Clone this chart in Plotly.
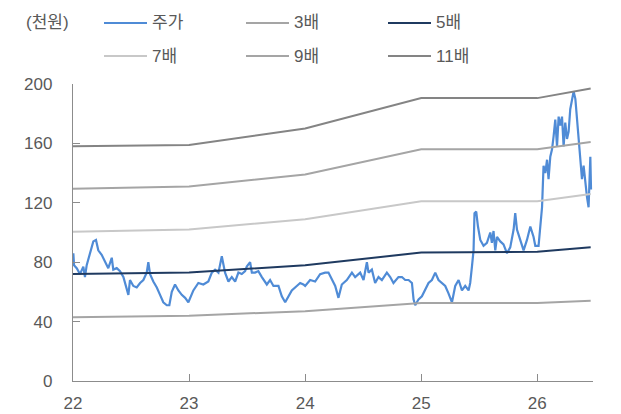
import plotly.graph_objects as go

# ---- data ----
price_t = [22.003, 22.009, 22.032, 22.060, 22.089, 22.103, 22.118, 22.147, 22.175, 22.198,
           22.218, 22.247, 22.276, 22.304, 22.334, 22.347, 22.377, 22.405, 22.434, 22.463,
           22.477, 22.491, 22.520, 22.549, 22.578, 22.606, 22.635, 22.649, 22.664, 22.692,
           22.722, 22.750, 22.778, 22.808, 22.830, 22.851, 22.879, 22.908, 22.937, 22.966,
           22.994, 23.037, 23.080, 23.123, 23.166, 23.196, 23.224, 23.253, 23.282, 23.310,
           23.339, 23.368, 23.397, 23.425, 23.454, 23.483, 23.497, 23.526, 23.541, 23.569,
           23.597, 23.627, 23.670, 23.698, 23.727, 23.770, 23.799, 23.828, 23.856, 23.885,
           23.928, 23.957, 23.985, 24.000, 24.043, 24.086, 24.129, 24.172, 24.201, 24.230,
           24.259, 24.287, 24.316, 24.359, 24.403, 24.431, 24.474, 24.503, 24.532, 24.546,
           24.575, 24.603, 24.632, 24.661, 24.704, 24.733, 24.761, 24.804, 24.834, 24.862,
           24.891, 24.920, 24.934, 24.948, 24.977, 25.006, 25.034, 25.063, 25.092, 25.121,
           25.149, 25.178, 25.207, 25.235, 25.265, 25.293, 25.322, 25.351, 25.379, 25.408,
           25.422, 25.437, 25.451, 25.459, 25.474, 25.489, 25.509, 25.537, 25.566, 25.595,
           25.609, 25.623, 25.638, 25.653, 25.681, 25.709, 25.739, 25.767, 25.796, 25.810,
           25.825, 25.853, 25.882, 25.911, 25.940, 25.968, 25.983, 26.011, 26.026, 26.041,
           26.054, 26.069, 26.084, 26.097, 26.112, 26.127, 26.141, 26.155, 26.170, 26.184,
           26.198, 26.213, 26.227, 26.241, 26.256, 26.270, 26.284, 26.299, 26.313, 26.328,
           26.342, 26.356, 26.371, 26.385, 26.399, 26.414, 26.428, 26.442, 26.457, 26.463]
price_v = [86, 78, 76, 72, 77, 70, 78, 87, 94, 95,
           88, 85, 80, 76, 83, 75, 76, 74, 70, 63,
           58, 68, 64, 63, 66, 68, 73, 80, 72, 67,
           63, 58, 53, 51, 51, 60, 65, 61, 58, 56,
           53, 61, 66, 65, 67, 73, 75, 73, 84, 73,
           67, 70, 67, 73, 72, 74, 77, 80, 73, 73,
           74, 70, 65, 68, 64, 64, 57, 53, 57, 61,
           64, 66, 65, 64, 68, 67, 72, 73, 73, 68,
           64, 56, 65, 68, 73, 70, 73, 68, 80, 73,
           75, 66, 70, 68, 73, 70, 66, 70, 70, 68,
           68, 66, 55, 51, 55, 57, 61, 66, 68, 73,
           68, 66, 64, 59, 53, 64, 68, 61, 64, 61,
           66, 77, 88, 113, 114, 104, 95, 91, 93, 100,
           93, 101, 88, 97, 94, 92, 86, 90, 102, 113,
           102, 95, 88, 95, 104, 97, 91, 91, 102, 117,
           145, 140, 149, 136, 151, 156, 165, 176, 158, 178,
           172, 178, 158, 174, 163, 168, 183, 190, 195, 190,
           178, 163, 149, 136, 145, 131, 124, 117, 151, 129]

band_t = [22.0, 23.0, 24.0, 25.0, 26.0, 26.46]
band_3x = [43, 44, 47, 52.5, 52.5, 54]
band_5x = [72, 73, 78, 86.5, 87, 90]
band_7x = [100.5, 102, 109, 121, 121, 126]
band_9x = [129.5, 131, 139, 156, 156, 161]
band_11x = [158, 159, 170, 190.5, 190.5, 197]

x_ticks = [22, 23, 24, 25, 26]
x_tick_labels = ["22", "23", "24", "25", "26"]
y_ticks = [0, 40, 80, 120, 160, 200]
unit_label = "(천원)"

series_names = ["주가", "3배", "5배", "7배", "9배", "11배"]
series_colors = ["#4F8BD6", "#A5A5A5", "#1F3A60", "#C8C8C8", "#A5A5A5", "#848484"]

# ---- figure ----
W, H = 621, 414
ML, MR, MT, MB = 73, 28, 84, 33
PW, PH = W - ML - MR, H - MT - MB

FONT = "Liberation Sans, Noto Sans CJK KR, sans-serif"
TXT = "#595959"

fig = go.Figure()
fig.add_trace(go.Scatter(x=price_t, y=price_v, mode="lines", name=series_names[0],
                         line=dict(color=series_colors[0], width=2.2), showlegend=False))
for name, vals, col in zip(series_names[1:], [band_3x, band_5x, band_7x, band_9x, band_11x],
                           series_colors[1:]):
    fig.add_trace(go.Scatter(x=band_t, y=vals, mode="lines", name=name,
                             line=dict(color=col, width=2), showlegend=False))


def px_x(p):
    return (p - ML) / PW


def px_y(p):
    return (H - MB - p) / PH


# manual legend (2 rows x 3 columns)
col_x = [104, 246, 388]
row_y = [23, 56]
line_len = 43
shapes = []
annotations = []
for i, (name, col) in enumerate(zip(series_names, series_colors)):
    r, c = divmod(i, 3)
    x0 = col_x[c]
    y = row_y[r]
    shapes.append(dict(type="line", xref="paper", yref="paper",
                       x0=px_x(x0), x1=px_x(x0 + line_len), y0=px_y(y), y1=px_y(y),
                       line=dict(color=col, width=2.2)))
    annotations.append(dict(xref="paper", yref="paper", x=px_x(x0 + line_len + 3), y=px_y(y),
                            text=name, showarrow=False, xanchor="left", yanchor="middle",
                            font=dict(family=FONT, size=17, color=TXT)))
annotations.append(dict(xref="paper", yref="paper", x=px_x(24), y=px_y(23), text=unit_label,
                        showarrow=False, xanchor="left", yanchor="middle",
                        font=dict(family=FONT, size=17, color=TXT)))

fig.update_layout(
    width=W, height=H,
    margin=dict(l=ML, r=MR, t=MT, b=MB, pad=0, autoexpand=False),
    paper_bgcolor="white", plot_bgcolor="white",
    font=dict(family=FONT, size=17, color=TXT),
    shapes=shapes, annotations=annotations,
    showlegend=False,
)
fig.update_xaxes(range=[22, 26.48], tickvals=x_ticks, ticktext=x_tick_labels, automargin=False,
                 showgrid=False, zeroline=False, showline=True, linecolor="#8C8C8C", linewidth=1.3,
                 ticks="inside", ticklen=7, tickcolor="#8C8C8C", tickwidth=1.3,
                 ticklabelstandoff=6, tickfont=dict(family=FONT, size=17, color=TXT))
fig.update_yaxes(range=[0, 200], tickvals=y_ticks, automargin=False,
                 showgrid=False, zeroline=False, showline=True, linecolor="#8C8C8C", linewidth=1.3,
                 ticks="inside", ticklen=7, tickcolor="#8C8C8C", tickwidth=1.3,
                 ticklabelstandoff=16, tickfont=dict(family=FONT, size=17, color=TXT))

fig.write_html("out.html")
